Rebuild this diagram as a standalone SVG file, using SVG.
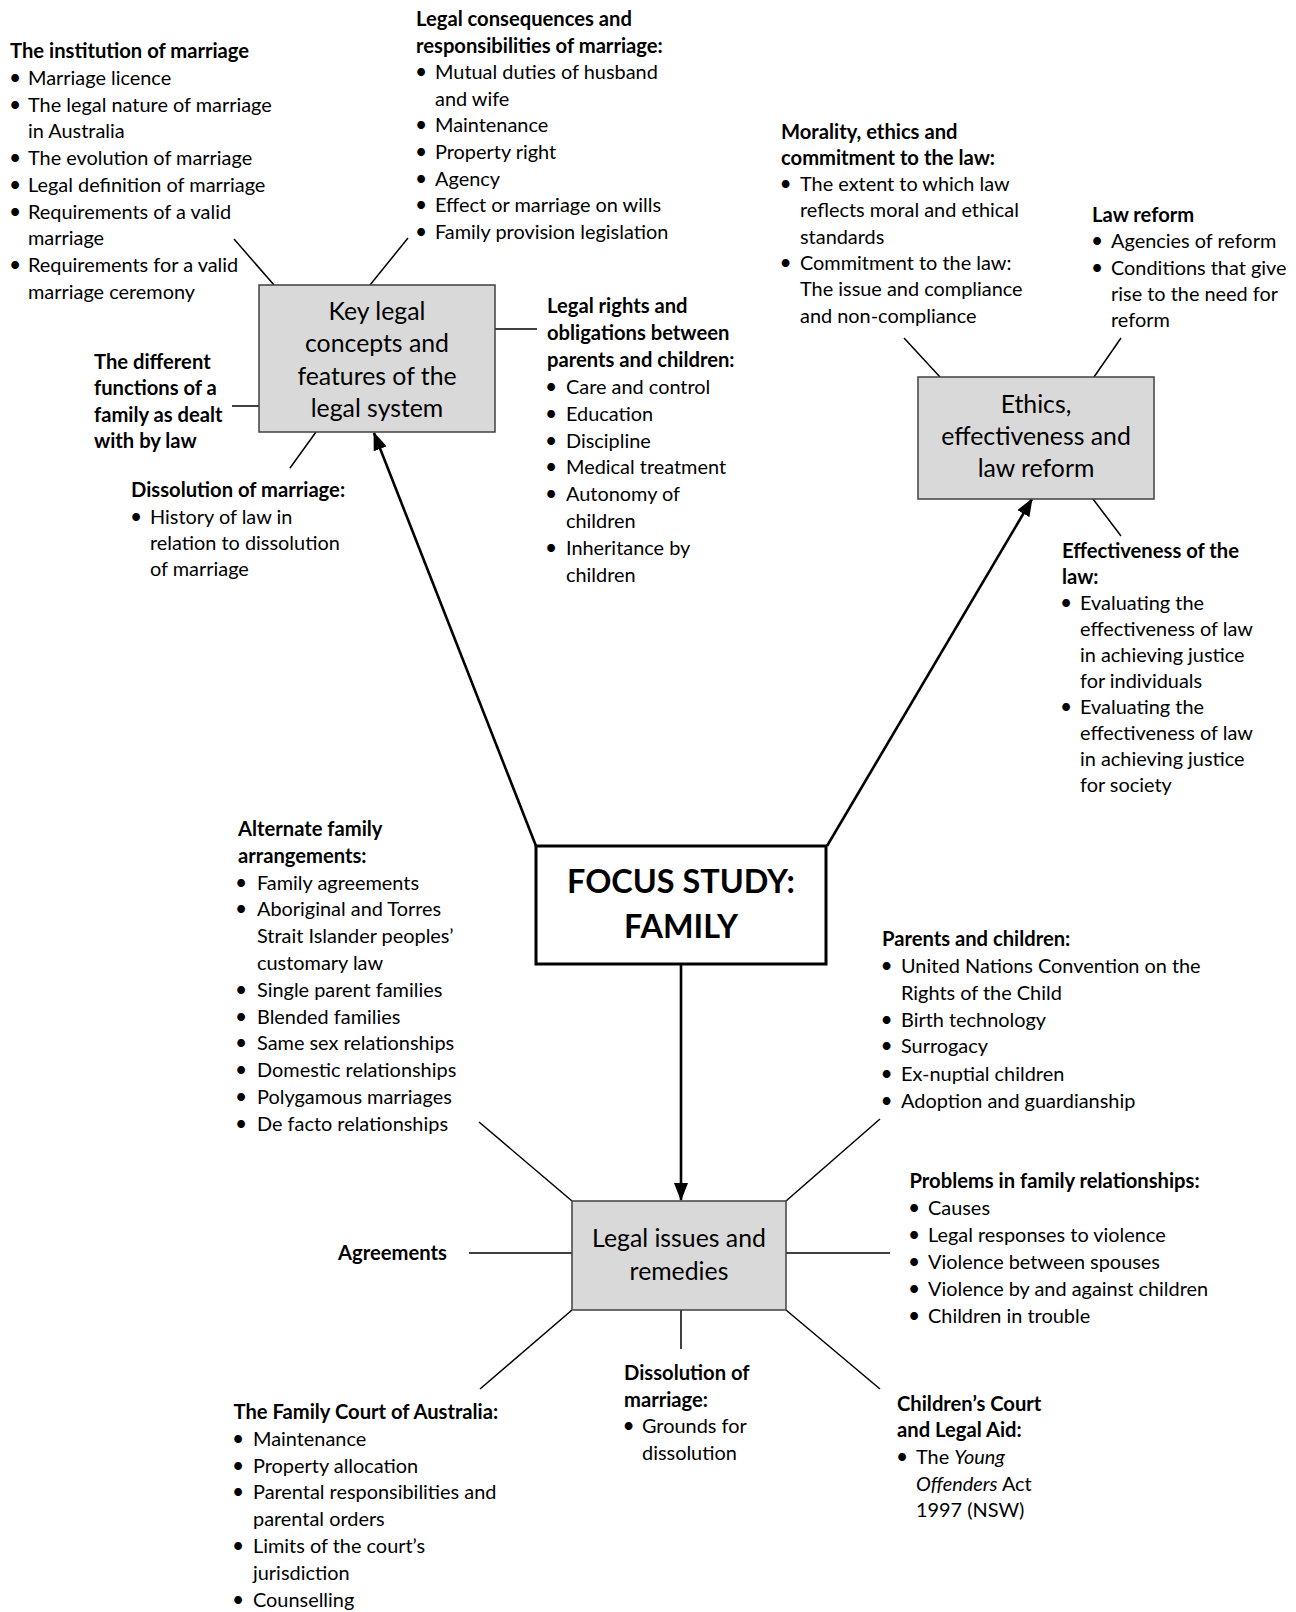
<svg xmlns="http://www.w3.org/2000/svg" width="1296" height="1612" viewBox="0 0 1296 1612">
  <style>
    .t { font-family: Lato, "Open Sans", "Liberation Sans", sans-serif; font-size: 19.9px; fill: #000; }
    .b { font-weight: 700; font-size: 20.2px; }
    .i { font-style: italic; }
    .u { font-size: 21px; }
    .box { fill: #d9d9d9; stroke: #404040; stroke-width: 1.5; }
    .bt { font-size: 24.8px; text-anchor: middle; }
    .focus { fill: #fff; stroke: #000; stroke-width: 3; }
    .ft { font-size: 32.4px; font-weight: 700; text-anchor: middle; }
    .ln { stroke: #000; stroke-width: 1.5; fill: none; }
    .ar { stroke: #000; stroke-width: 2.6; fill: none; marker-end: url(#ah); }
  </style>
  <defs>
    <marker id="ah" viewBox="0 0 18 14" refX="17" refY="7" markerWidth="18" markerHeight="14" markerUnits="userSpaceOnUse" orient="auto">
      <path d="M0,0 L18,7 L0,14 z" fill="#000"/>
    </marker>
  </defs>
  <rect width="1296" height="1612" fill="#fff"/>

  <!-- connectors: thin spokes and the three arrows from the central box -->
  <g id="connectors">
    <line class="ln" x1="234" y1="239" x2="274" y2="285"/>
    <line class="ln" x1="408" y1="238" x2="370" y2="285"/>
    <line class="ln" x1="495" y1="329" x2="537" y2="329"/>
    <line class="ln" x1="232" y1="406" x2="259" y2="406"/>
    <line class="ln" x1="316" y1="432" x2="290" y2="468"/>
    <line class="ln" x1="904" y1="338" x2="940" y2="377"/>
    <line class="ln" x1="1121" y1="338" x2="1094" y2="377"/>
    <line class="ln" x1="1093" y1="499" x2="1121" y2="536"/>
    <line class="ln" x1="479" y1="1122" x2="572" y2="1201"/>
    <line class="ln" x1="880" y1="1119" x2="786" y2="1201"/>
    <line class="ln" x1="469" y1="1253" x2="572" y2="1253"/>
    <line class="ln" x1="786" y1="1253" x2="890" y2="1253"/>
    <line class="ln" x1="572" y1="1310" x2="480" y2="1389"/>
    <line class="ln" x1="681" y1="1310" x2="681" y2="1349"/>
    <line class="ln" x1="786" y1="1310" x2="880" y2="1389"/>
    <line class="ar" x1="536" y1="846" x2="374" y2="433"/>
    <line class="ar" x1="827" y1="846" x2="1032" y2="499"/>
    <line class="ar" x1="681" y1="965" x2="681" y2="1200"/>
  </g>

  <!-- main boxes -->
  <g id="key-concepts">
    <rect class="box" x="259" y="285" width="236" height="147"/>
    <text class="t bt" x="377" y="320">Key legal</text>
    <text class="t bt" x="377" y="352.3">concepts and</text>
    <text class="t bt" x="377" y="384.6">features of the</text>
    <text class="t bt" x="377" y="417">legal system</text>
  </g>
  <g id="ethics">
    <rect class="box" x="918" y="377" width="236" height="122"/>
    <text class="t bt" x="1036" y="412.5">Ethics,</text>
    <text class="t bt" x="1036" y="444.8">effectiveness and</text>
    <text class="t bt" x="1036" y="477">law reform</text>
  </g>
  <g id="focus-study">
    <rect class="focus" x="536" y="846" width="290" height="118"/>
    <text class="t ft" x="681" y="893">FOCUS STUDY:</text>
    <text class="t ft" x="681" y="938">FAMILY</text>
  </g>
  <g id="legal-issues">
    <rect class="box" x="572" y="1201" width="214" height="109"/>
    <text class="t bt" x="679" y="1246.5">Legal issues and</text>
    <text class="t bt" x="679" y="1279.5">remedies</text>
  </g>

  <!-- topic lists -->
  <g id="institution-of-marriage">
    <text class="t b" x="10" y="58">The institution of marriage</text>
    <text class="t u" x="9" y="85">•</text><text class="t" x="28" y="85">Marriage licence</text>
    <text class="t u" x="9" y="112">•</text><text class="t" x="28" y="112">The legal nature of marriage</text>
    <text class="t" x="28" y="138">in Australia</text>
    <text class="t u" x="9" y="165">•</text><text class="t" x="28" y="165">The evolution of marriage</text>
    <text class="t u" x="9" y="192">•</text><text class="t" x="28" y="192">Legal definition of marriage</text>
    <text class="t u" x="9" y="218.5">•</text><text class="t" x="28" y="218.5">Requirements of a valid</text>
    <text class="t" x="28" y="245">marriage</text>
    <text class="t u" x="9" y="272">•</text><text class="t" x="28" y="272">Requirements for a valid</text>
    <text class="t" x="28" y="299">marriage ceremony</text>
  </g>

  <g id="consequences-of-marriage">
    <text class="t b" x="416" y="26">Legal consequences and</text>
    <text class="t b" x="416" y="52.6">responsibilities of marriage:</text>
    <text class="t u" x="415" y="79.2">•</text><text class="t" x="435" y="79.2">Mutual duties of husband</text>
    <text class="t" x="435" y="105.8">and wife</text>
    <text class="t u" x="415" y="132.4">•</text><text class="t" x="435" y="132.4">Maintenance</text>
    <text class="t u" x="415" y="159">•</text><text class="t" x="435" y="159">Property right</text>
    <text class="t u" x="415" y="185.6">•</text><text class="t" x="435" y="185.6">Agency</text>
    <text class="t u" x="415" y="212.2">•</text><text class="t" x="435" y="212.2">Effect or marriage on wills</text>
    <text class="t u" x="415" y="238.8">•</text><text class="t" x="435" y="238.8">Family provision legislation</text>
  </g>

  <g id="parents-children-rights">
    <text class="t b" x="547" y="313">Legal rights and</text>
    <text class="t b" x="547" y="339.9">obligations between</text>
    <text class="t b" x="547" y="366.8">parents and children:</text>
    <text class="t u" x="545" y="393.7">•</text><text class="t" x="566" y="393.7">Care and control</text>
    <text class="t u" x="545" y="420.6">•</text><text class="t" x="566" y="420.6">Education</text>
    <text class="t u" x="545" y="447.5">•</text><text class="t" x="566" y="447.5">Discipline</text>
    <text class="t u" x="545" y="474.4">•</text><text class="t" x="566" y="474.4">Medical treatment</text>
    <text class="t u" x="545" y="501.3">•</text><text class="t" x="566" y="501.3">Autonomy of</text>
    <text class="t" x="566" y="528.2">children</text>
    <text class="t u" x="545" y="555.1">•</text><text class="t" x="566" y="555.1">Inheritance by</text>
    <text class="t" x="566" y="582">children</text>
  </g>

  <g id="family-functions">
    <text class="t b" x="94" y="368.5">The different</text>
    <text class="t b" x="94" y="395">functions of a</text>
    <text class="t b" x="94" y="421.5">family as dealt</text>
    <text class="t b" x="94" y="448">with by law</text>
  </g>

  <g id="dissolution-history">
    <text class="t b" x="131" y="497">Dissolution of marriage:</text>
    <text class="t u" x="130" y="523.5">•</text><text class="t" x="150" y="523.5">History of law in</text>
    <text class="t" x="150" y="549.5">relation to dissolution</text>
    <text class="t" x="150" y="575.5">of marriage</text>
  </g>

  <g id="morality-ethics">
    <text class="t b" x="781" y="138.5">Morality, ethics and</text>
    <text class="t b" x="781" y="164.8">commitment to the law:</text>
    <text class="t u" x="779.5" y="191.1">•</text><text class="t" x="800" y="191.1">The extent to which law</text>
    <text class="t" x="800" y="217.4">reflects moral and ethical</text>
    <text class="t" x="800" y="243.7">standards</text>
    <text class="t u" x="779.5" y="270">•</text><text class="t" x="800" y="270">Commitment to the law:</text>
    <text class="t" x="800" y="296.3">The issue and compliance</text>
    <text class="t" x="800" y="322.6">and non-compliance</text>
  </g>

  <g id="law-reform">
    <text class="t b" x="1092" y="221.5">Law reform</text>
    <text class="t u" x="1091" y="248">•</text><text class="t" x="1111" y="248">Agencies of reform</text>
    <text class="t u" x="1091" y="274.5">•</text><text class="t" x="1111" y="274.5">Conditions that give</text>
    <text class="t" x="1111" y="301">rise to the need for</text>
    <text class="t" x="1111" y="327">reform</text>
  </g>

  <g id="effectiveness">
    <text class="t b" x="1062" y="557.5">Effectiveness of the</text>
    <text class="t b" x="1062" y="583.6">law:</text>
    <text class="t u" x="1060" y="609.7">•</text><text class="t" x="1080" y="609.7">Evaluating the</text>
    <text class="t" x="1080" y="635.8">effectiveness of law</text>
    <text class="t" x="1080" y="661.9">in achieving justice</text>
    <text class="t" x="1080" y="688">for individuals</text>
    <text class="t u" x="1060" y="714.1">•</text><text class="t" x="1080" y="714.1">Evaluating the</text>
    <text class="t" x="1080" y="740.2">effectiveness of law</text>
    <text class="t" x="1080" y="766.3">in achieving justice</text>
    <text class="t" x="1080" y="792.4">for society</text>
  </g>

  <g id="alternate-arrangements">
    <text class="t b" x="238" y="836">Alternate family</text>
    <text class="t b" x="238" y="862.8">arrangements:</text>
    <text class="t u" x="235" y="889.6">•</text><text class="t" x="257" y="889.6">Family agreements</text>
    <text class="t u" x="235" y="916.4">•</text><text class="t" x="257" y="916.4">Aboriginal and Torres</text>
    <text class="t" x="257" y="943.2">Strait Islander peoples’</text>
    <text class="t" x="257" y="970">customary law</text>
    <text class="t u" x="235" y="996.8">•</text><text class="t" x="257" y="996.8">Single parent families</text>
    <text class="t u" x="235" y="1023.6">•</text><text class="t" x="257" y="1023.6">Blended families</text>
    <text class="t u" x="235" y="1050.4">•</text><text class="t" x="257" y="1050.4">Same sex relationships</text>
    <text class="t u" x="235" y="1077.2">•</text><text class="t" x="257" y="1077.2">Domestic relationships</text>
    <text class="t u" x="235" y="1104">•</text><text class="t" x="257" y="1104">Polygamous marriages</text>
    <text class="t u" x="235" y="1130.8">•</text><text class="t" x="257" y="1130.8">De facto relationships</text>
  </g>

  <g id="parents-and-children">
    <text class="t b" x="882" y="946">Parents and children:</text>
    <text class="t u" x="880.5" y="973">•</text><text class="t" x="901" y="973">United Nations Convention on the</text>
    <text class="t" x="901" y="999.5">Rights of the Child</text>
    <text class="t u" x="880.5" y="1026.5">•</text><text class="t" x="901" y="1026.5">Birth technology</text>
    <text class="t u" x="880.5" y="1053">•</text><text class="t" x="901" y="1053">Surrogacy</text>
    <text class="t u" x="880.5" y="1080.5">•</text><text class="t" x="901" y="1080.5">Ex-nuptial children</text>
    <text class="t u" x="880.5" y="1107.5">•</text><text class="t" x="901" y="1107.5">Adoption and guardianship</text>
  </g>

  <g id="family-problems">
    <text class="t b" x="909.5" y="1188">Problems in family relationships:</text>
    <text class="t u" x="908" y="1215">•</text><text class="t" x="928" y="1215">Causes</text>
    <text class="t u" x="908" y="1242">•</text><text class="t" x="928" y="1242">Legal responses to violence</text>
    <text class="t u" x="908" y="1269">•</text><text class="t" x="928" y="1269">Violence between spouses</text>
    <text class="t u" x="908" y="1296">•</text><text class="t" x="928" y="1296">Violence by and against children</text>
    <text class="t u" x="908" y="1323">•</text><text class="t" x="928" y="1323">Children in trouble</text>
  </g>

  <g id="agreements">
    <text class="t b" x="338" y="1260">Agreements</text>
  </g>

  <g id="family-court">
    <text class="t b" x="233.5" y="1419">The Family Court of Australia:</text>
    <text class="t u" x="232" y="1445.8">•</text><text class="t" x="253" y="1445.8">Maintenance</text>
    <text class="t u" x="232" y="1472.6">•</text><text class="t" x="253" y="1472.6">Property allocation</text>
    <text class="t u" x="232" y="1499.4">•</text><text class="t" x="253" y="1499.4">Parental responsibilities and</text>
    <text class="t" x="253" y="1526.2">parental orders</text>
    <text class="t u" x="232" y="1553">•</text><text class="t" x="253" y="1553">Limits of the court’s</text>
    <text class="t" x="253" y="1579.8">jurisdiction</text>
    <text class="t u" x="232" y="1606.6">•</text><text class="t" x="253" y="1606.6">Counselling</text>
  </g>

  <g id="dissolution-grounds">
    <text class="t b" x="624" y="1380">Dissolution of</text>
    <text class="t b" x="624" y="1406.7">marriage:</text>
    <text class="t u" x="622.5" y="1433.3">•</text><text class="t" x="642" y="1433.3">Grounds for</text>
    <text class="t" x="642" y="1460">dissolution</text>
  </g>

  <g id="childrens-court">
    <text class="t b" x="897" y="1410.5">Children’s Court</text>
    <text class="t b" x="897" y="1437">and Legal Aid:</text>
    <text class="t u" x="896" y="1464">•</text><text class="t" x="916" y="1464">The <tspan class="i">Young</tspan></text>
    <text class="t" x="916" y="1490.5"><tspan class="i">Offenders</tspan> Act</text>
    <text class="t" x="916" y="1517">1997 (NSW)</text>
  </g>
</svg>
